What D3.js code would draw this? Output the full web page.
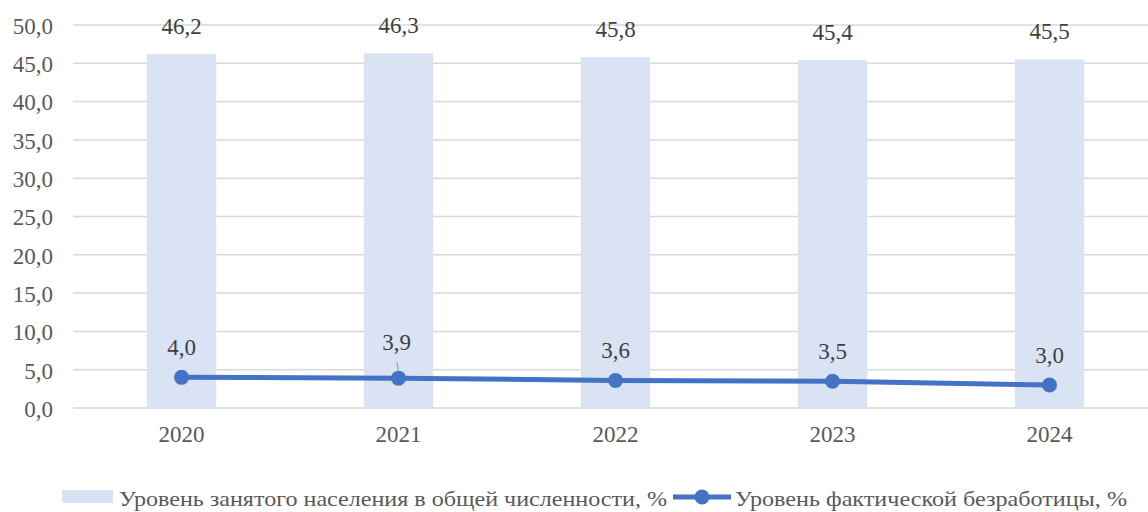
<!DOCTYPE html>
<html>
<head>
<meta charset="utf-8">
<script src="https://d3js.org/d3.v7.min.js"></script>
<style>
  body { margin: 0; background: #fff; }
  svg text { font-family: 'Liberation Serif' !important; }
</style>
</head>
<body>
<svg width="1148" height="512"></svg>
<script>
var years = ["2020", "2021", "2022", "2023", "2024"];
var employed = [46.2, 46.3, 45.8, 45.4, 45.5];
var unemployed = [4.0, 3.9, 3.6, 3.5, 3.0];
var yTicks = [0, 5, 10, 15, 20, 25, 30, 35, 40, 45, 50];
var employedName = "Уровень занятого населения в общей численности, %";
var unemployedName = "Уровень фактической безработицы, %";

var svg = d3.select("svg");
var fmt = function(v) { return v.toFixed(1).replace(".", ","); };

var x = d3.scaleBand().domain(years).range([73, 1158]).paddingInner(0.68).paddingOuter(0.34);
var y = d3.scaleLinear().domain([0, 50]).range([408, 25]);

// gridlines
svg.append("g").selectAll("line")
  .data(yTicks)
  .enter().append("line")
  .attr("x1", 73).attr("x2", 1148)
  .attr("y1", function(d) { return y(d); })
  .attr("y2", function(d) { return y(d); })
  .attr("stroke", "#d9d9d9")
  .attr("stroke-width", 1.5);

// y axis labels
var yAxis = d3.axisLeft(y).tickValues(yTicks).tickFormat(fmt).tickSize(0).tickPadding(0);
var gy = svg.append("g").attr("transform", "translate(53,1)").call(yAxis)
  .attr("font-family", null).attr("font-size", 23);
gy.select(".domain").remove();
gy.selectAll("text").attr("fill", "#595959");

// x axis labels
var xAxis = d3.axisBottom(x).tickSize(0).tickPadding(0);
var gx = svg.append("g").attr("transform", "translate(0,426)").call(xAxis)
  .attr("font-family", null).attr("font-size", 23);
gx.select(".domain").remove();
gx.selectAll("text").attr("fill", "#595959");

// bars
svg.append("g").selectAll("rect")
  .data(employed)
  .enter().append("rect")
  .attr("x", function(d, i) { return x(years[i]); })
  .attr("width", x.bandwidth())
  .attr("y", function(d) { return y(d); })
  .attr("height", function(d) { return y(0) - y(d); })
  .attr("fill", "#dae3f3");

svg.append("g").selectAll("text")
  .data(employed)
  .enter().append("text")
  .attr("x", function(d, i) { return x(years[i]) + x.bandwidth() / 2; })
  .attr("y", function(d) { return y(d) - 20; })
  .attr("text-anchor", "middle")
  .attr("font-size", 23).attr("fill", "#404040")
  .text(fmt);

// line
var cx = function(i) { return x(years[i]) + x.bandwidth() / 2; };
var line = d3.line()
  .x(function(d, i) { return cx(i); })
  .y(function(d) { return y(d); });

svg.append("path")
  .datum(unemployed)
  .attr("d", line)
  .attr("fill", "none")
  .attr("stroke", "#4472c4")
  .attr("stroke-width", 5);

// leader line for 2021 label
svg.append("line")
  .attr("x1", cx(1) - 1.5).attr("y1", y(unemployed[1]) - 16)
  .attr("x2", cx(1) + 0.5).attr("y2", y(unemployed[1]) - 1)
  .attr("stroke", "#a6a6a6").attr("stroke-width", 1.2);

svg.append("g").selectAll("circle")
  .data(unemployed)
  .enter().append("circle")
  .attr("cx", function(d, i) { return cx(i); })
  .attr("cy", function(d) { return y(d); })
  .attr("r", 7.5)
  .attr("fill", "#4472c4");

svg.append("g").selectAll("text")
  .data(unemployed)
  .enter().append("text")
  .attr("x", function(d, i) { return cx(i) - (i === 1 ? 2 : 0); })
  .attr("y", function(d, i) { return y(d) - (i === 1 ? 28 : 22); })
  .attr("text-anchor", "middle")
  .attr("font-size", 23).attr("fill", "#404040")
  .text(fmt);

// legend
var lg = svg.append("g").attr("font-size", 21).attr("fill", "#595959");
lg.append("rect").attr("x", 62).attr("y", 490).attr("width", 51).attr("height", 13).attr("fill", "#dae3f3");
lg.append("text").attr("x", 119).attr("y", 506)
  .attr("textLength", 548).attr("lengthAdjust", "spacingAndGlyphs").text(employedName);
lg.append("line").attr("x1", 673).attr("x2", 731).attr("y1", 497).attr("y2", 497)
  .attr("stroke", "#4472c4").attr("stroke-width", 5);
lg.append("circle").attr("cx", 702).attr("cy", 497).attr("r", 7.5).attr("fill", "#4472c4");
lg.append("text").attr("x", 735).attr("y", 506)
  .attr("textLength", 392).attr("lengthAdjust", "spacingAndGlyphs").text(unemployedName);
</script>
</body>
</html>
